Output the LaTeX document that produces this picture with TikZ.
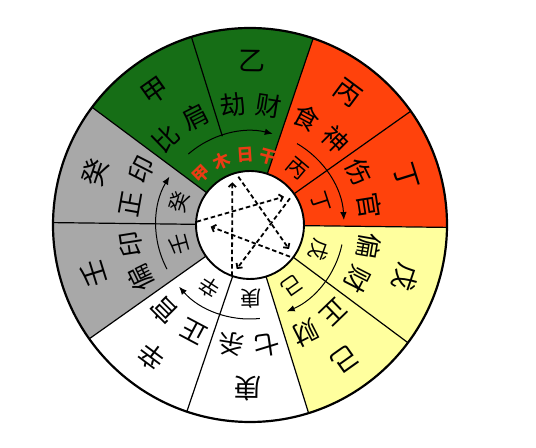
\documentclass[tikz,border=0pt]{standalone}
\usepackage{fontspec}
\newfontfamily\cjk{Noto Sans CJK SC}
\usetikzlibrary{arrows.meta}
\definecolor{woodc}{RGB}{22,110,22}
\definecolor{firec}{RGB}{255,66,12}
\definecolor{waterc}{RGB}{168,168,168}
\definecolor{earthc}{RGB}{255,255,158}
\definecolor{redtxt}{RGB}{235,60,20}
\tikzset{
  outerlbl/.style={inner sep=0pt, font=\cjk\fontsize{27}{27}\selectfont},
  godlbl/.style={inner sep=0pt, font=\cjk\fontsize{26}{26}\selectfont},
  innerlbl/.style={inner sep=0pt, font=\cjk\fontsize{21}{21}\selectfont},
  daylbl/.style={inner sep=0pt, text=redtxt, font=\cjk\bfseries\fontsize{17}{17}\selectfont},
  bound/.style={line width=1.2bp, black},
  cyclearrow/.style={line width=1bp, -{Latex[length=8bp,width=6.5bp]}},
  starline/.style={line width=1.8bp, dash pattern=on 4.5bp off 2.8bp, -{Straight Barb[length=3.5bp,width=7.5bp]}}
}
\begin{document}
\begin{tikzpicture}[x=1bp,y=1bp]
\useasboundingbox (-250,-223) rectangle (286,225);
\fill[white] (-250,-223) rectangle (286,225);
\begin{scope}[rotate=-0.7]
  \fill[firec]  (0,0) -- (0:197) arc[start angle=0,end angle=72,radius=197] -- cycle;
  \fill[woodc]  (0,0) -- (72:197) arc[start angle=72,end angle=144,radius=197] -- cycle;
  \fill[waterc] (0,0) -- (144:197) arc[start angle=144,end angle=216,radius=197] -- cycle;
  \fill[white]  (0,0) -- (216:197) arc[start angle=216,end angle=288,radius=197] -- cycle;
  \fill[earthc] (0,0) -- (288:197) arc[start angle=288,end angle=360,radius=197] -- cycle;
  \foreach \a in {0,36,72,144,180,216,252,288,324}
    \draw[bound] (\a:54) -- (\a:197);
  \draw[bound] (108:93) -- (108:197);
  \draw[line width=1.9bp, fill=white] (0,0) circle[radius=54];
  \draw[line width=2.2bp] (0,0) circle[radius=197];
\end{scope}
% outer stems
\foreach \ch/\t/\nm in {丁/17.3/oa,丙/53.3/ob,乙/89.3/oc,甲/125.3/od,癸/161.3/oe,壬/197.3/of,辛/233.3/og,庚/269.3/oh,己/305.3/oi,戊/341.3/oj}
  \node[outerlbl, rotate=\t-90] (\nm) at (\t:164) {\ch};
% ten gods
\foreach \ch/\t/\nm in {伤/26/ga,官/9/gb,食/62/gc,神/45/gd,劫/98/ge,财/81/gf,比/134/gg,肩/117/gh,正/170/gi,印/153/gj,偏/206/gk,印/189/gl,正/242/gm,官/225/gn,七/278/go,杀/261/gp,正/314/gq,财/297/gr,偏/350/gs,财/333/gt}
  \node[godlbl, rotate=\t-90] (\nm) at (\t:121) {\ch};
% inner stems
\foreach \ch/\t/\nm in {丁/18/ia,丙/50/ib,癸/162/ic,壬/195/id,辛/237/ie,庚/271/if,己/305/ig,戊/340/ih}
  \node[innerlbl, rotate=\t-90] (\nm) at (\t:74) {\ch};
% day master
\foreach \ch/\t/\nm in {甲/134/da,木/114/db,日/94/dc,干/75/dd}
  \node[daylbl, rotate=\t-90] (\nm) at (\t:70) {\ch};
% generating cycle arrows
\draw[cyclearrow] (131:94) arc[start angle=131,end angle=76,radius=94];
\draw[cyclearrow] (60:94) arc[start angle=60,end angle=3,radius=94];
\draw[cyclearrow] (-12:94) arc[start angle=-12,end angle=-67,radius=94];
\draw[cyclearrow] (-84:94) arc[start angle=-84,end angle=-139,radius=94];
\draw[cyclearrow] (208:94) arc[start angle=208,end angle=149,radius=94];
% controlling star
\coordinate (a1) at (-18,-51);   \coordinate (a2) at (-17.7,42.7);
\coordinate (b1) at (-11.7,48.3); \coordinate (b2) at (39,-24);
\coordinate (c1) at (-53.3,3.3);  \coordinate (c2) at (34,28.3);
\coordinate (d1) at (40,26.7);    \coordinate (d2) at (-13.3,-44);
\coordinate (e1) at (40,-31.7);   \coordinate (e2) at (-39.3,-1.7);
\draw[starline] (a1) -- (a2);
\draw[starline] (b1) -- (b2);
\draw[starline] (c1) -- (c2);
\draw[starline] (d1) -- (d2);
\draw[starline] (e1) -- (e2);
\end{tikzpicture}
\end{document}
